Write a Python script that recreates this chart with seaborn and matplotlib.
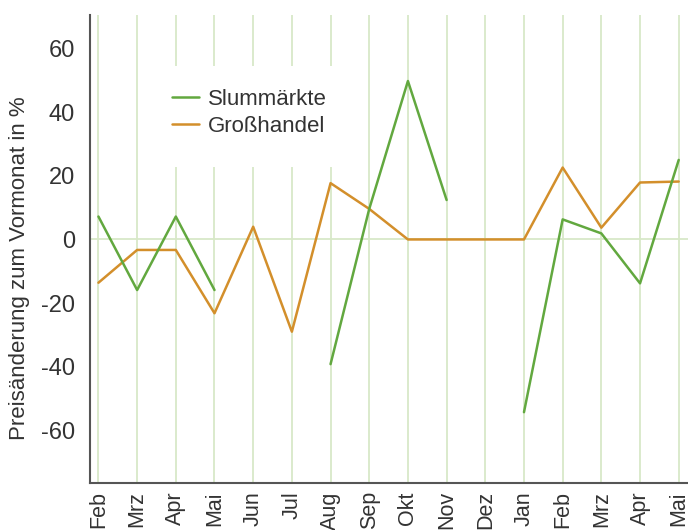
import numpy as np
import pandas as pd
import matplotlib
matplotlib.use('Agg')
import matplotlib.pyplot as plt
from matplotlib.patches import Rectangle
import seaborn as sns

# Monthly price changes (in % vs. previous month)
months = ['Feb', 'Mrz', 'Apr', 'Mai', 'Jun', 'Jul', 'Aug', 'Sep',
          'Okt', 'Nov', 'Dez', 'Jan', 'Feb', 'Mrz', 'Apr', 'Mai']
slum = [7.2, -15.9, 7.2, -15.9, np.nan, np.nan, -39.2, 9.6,
        49.8, 12.4, np.nan, -54.3, 6.3, 1.9, -13.8, 25.0]
gross = [-13.6, -3.3, -3.3, -23.2, 4.0, -29.0, 17.7, 9.6,
         0.0, 0.0, 0.0, 0.0, 22.6, 3.7, 17.9, 18.2]
yticks = [-60, -40, -20, 0, 20, 40, 60]

green = '#62a83f'
orange = '#d38f2b'
grid_col = '#d8e8c8'
text_col = '#333333'

sns.set_style('white')
plt.rcParams['font.family'] = ['Liberation Sans', 'DejaVu Sans']

df = pd.DataFrame({'pos': range(len(months)), 'Slummärkte': slum, 'Großhandel': gross})

fig = plt.figure(figsize=(6.88, 5.30), dpi=100)
ax = fig.add_axes([0.131, 0.089, 0.869, 0.883])

for x in df['pos']:
    ax.axvline(x, color=grid_col, lw=1.3, zorder=0)
ax.axhline(0, color=grid_col, lw=1.3, zorder=0)

# white patch behind the legend hides the gridlines there
ax.add_patch(Rectangle((0.100, 0.675), 0.334, 0.216, transform=ax.transAxes,
                       facecolor='white', edgecolor='none', zorder=1))

ax.plot(df['pos'], df['Slummärkte'], color=green, lw=1.8, label='Slummärkte', zorder=3)
sns.lineplot(data=df, x='pos', y='Großhandel', color=orange, lw=1.8,
             label='Großhandel', ax=ax, zorder=2)

ax.set_xlim(-0.215, 15.24)
ax.set_ylim(-76.5, 70.6)
ax.set_xticks(df['pos'])
ax.set_xticklabels(months, rotation=90, fontsize=15.5, color=text_col)
ax.set_yticks(yticks)
ax.set_yticklabels([str(v) for v in yticks], fontsize=17, color=text_col)
ax.tick_params(axis='y', length=0, pad=11)
ax.tick_params(axis='x', length=0, pad=6)
ax.set_xlabel('')
ax.set_ylabel('Preisänderung zum Vormonat in %', fontsize=16, color=text_col)
ax.yaxis.set_label_coords(-0.100, 0.459)

for s in ['top', 'right']:
    ax.spines[s].set_visible(False)
for s in ['left', 'bottom']:
    ax.spines[s].set_color('#555555')
    ax.spines[s].set_linewidth(1.5)

leg = ax.legend(loc='upper left', bbox_to_anchor=(0.137, 0.842), fontsize=16,
                frameon=False, borderaxespad=0, borderpad=0,
                handlelength=1.2, handletextpad=0.4, labelspacing=0.28)
for t in leg.get_texts():
    t.set_color(text_col)
leg.set_zorder(4)

fig.savefig('out.png', dpi=100)
plt.close(fig)
